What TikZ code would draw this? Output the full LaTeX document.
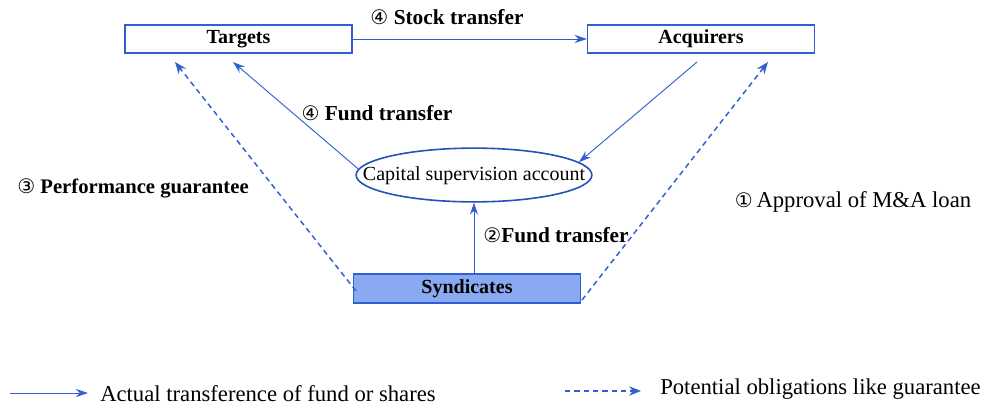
\documentclass[tikz,border=0pt]{standalone}
\usepackage{fontspec}
\setmainfont{Liberation Serif}
\newfontfamily\circfont{DejaVu Sans}
\usetikzlibrary{arrows.meta,shapes.geometric}
\definecolor{lineblue}{HTML}{2F5FD2}
\definecolor{ringblue}{HTML}{2452B8}
\definecolor{fillblue}{HTML}{89AAF0}
\newcommand{\cnum}[1]{{\circfont\mdseries\fontsize{15}{17}\selectfont #1}}
\tikzset{
  party/.style={draw=lineblue, line width=1.1pt, minimum width=227*0.75pt,
    minimum height=28*0.75pt, inner sep=0pt, font=\bfseries\fontsize{15}{17}\selectfont},
  flow/.style={draw=lineblue, line width=0.7pt, -{Stealth[length=9pt,width=6pt]}},
  oblig/.style={draw=lineblue, line width=1.1pt, dash pattern=on 4pt off 3pt,
    -{Stealth[length=9pt,width=7pt]}},
  lbl/.style={font=\fontsize{17}{20}\selectfont, inner sep=0pt},
  blbl/.style={font=\bfseries\fontsize{16}{19}\selectfont, inner sep=0pt}
}
\begin{document}
\begin{tikzpicture}[x=0.75pt,y=-0.75pt]
\useasboundingbox (0,0) rectangle (985,407);

% parties
\node[party] (targets) at (238.5,39) {Targets};
\node[party] (acquirers) at (701,39) {Acquirers};
\node[party, fill=fillblue, minimum height=29*0.75pt] (synd) at (467,288.5) {Syndicates};
\node[ellipse, draw=ringblue, line width=1.2pt, inner xsep=-20.8pt, inner ysep=7.5pt,
  text height=10.5pt, text depth=3pt, font=\fontsize{15}{17}\selectfont]
  (csa) at (474,175) {Capital supervision account};

% free ends of connectors
\coordinate (tgtA) at (233,62);
\coordinate (tgtB) at (175,62);
\coordinate (acqB) at (768,62);
\coordinate (acqA) at (697,62);
\coordinate (syndL) at (356,291);
\coordinate (syndR) at (582,300);

% actual transfers
\draw[flow] (targets.east) -- (acquirers.west);
\draw[flow] (csa.177) -- (tgtA);
\draw[flow] (acqA) -- (csa.7);
\draw[flow] (synd.north -| csa.south) -- (csa.south);

% potential obligations
\draw[oblig] (syndL) -- (tgtB);
\draw[oblig] (syndR) -- (acqB);

% labels
\node[blbl] (l4a) at (447,17) {\cnum{④} Stock transfer};
\node[blbl] (l4b) at (377,113) {\cnum{④} Fund transfer};
\node[blbl, font=\bfseries\fontsize{15.5}{18}\selectfont] (l3) at (133,188) {\cnum{③} Performance guarantee};
\node[lbl] (l1) at (853,202) {\cnum{①}\,Approval of M\&A loan};
\node[blbl] (l2) at (556,235) {\cnum{②}Fund transfer};

% legend
\coordinate (k1a) at (10,393);
\coordinate (k1b) at (88,393);
\draw[flow] (k1a) -- (k1b);
\node[lbl, anchor=west] (k1) at (100,394) {Actual transference of fund or shares};
\coordinate (k2a) at (565,391);
\coordinate (k2b) at (641,391);
\draw[oblig, line width=0.8pt] (k2a) -- (k2b);
\node[lbl, anchor=west] (k2) at (660,389) {Potential obligations like guarantee};
\end{tikzpicture}
\end{document}
